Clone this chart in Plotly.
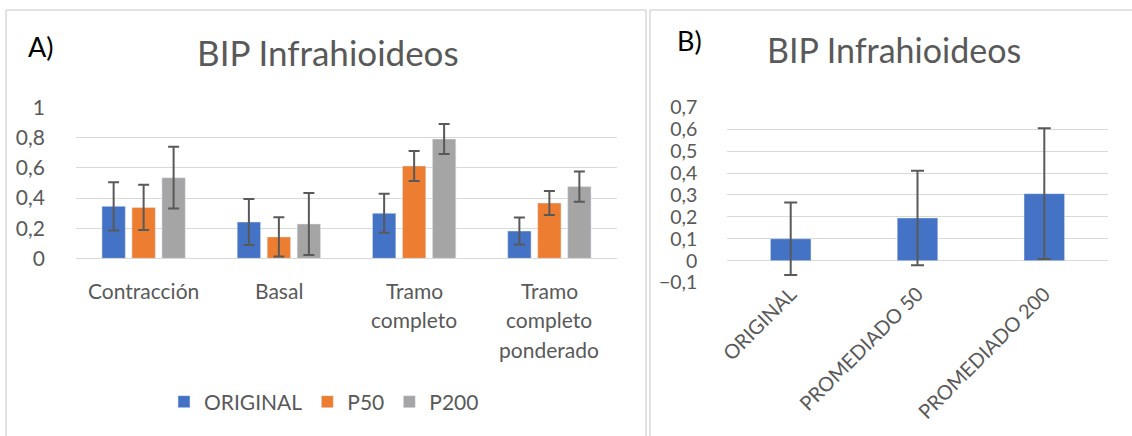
import plotly.graph_objects as go

W, H = 1132, 436

# Panel A: BIP per condition and processing
categories = ["Contracción", "Basal", "Tramo completo", "Tramo completo ponderado"]
original = [0.345, 0.241, 0.299, 0.181]
original_err = [0.16, 0.153, 0.13, 0.09]
p50 = [0.338, 0.142, 0.613, 0.367]
p50_err = [0.15, 0.13, 0.10, 0.08]
p200 = [0.535, 0.228, 0.792, 0.476]
p200_err = [0.205, 0.206, 0.10, 0.10]

# Panel B: mean BIP per processing method
methods = ["ORIGINAL", "PROMEDIADO 50", "PROMEDIADO 200"]
method_mean = [0.10, 0.195, 0.306]
method_err = [0.165, 0.216, 0.298]

BLUE, ORANGE, GRAY = "#4472C4", "#ED7D31", "#A5A5A5"
TXT = "#595959"
GRID = "#D9D9D9"
FONT = "Lato"
FS = 21


def px_x(p):
    return p / W


def px_y(p):
    return 1 - p / H


def err(arr, w):
    return dict(type="data", array=arr, color=TXT, thickness=2, width=w)


fig = go.Figure()
for name, vals, errs, col in [
    ("ORIGINAL", original, original_err, BLUE),
    ("P50", p50, p50_err, ORANGE),
    ("P200", p200, p200_err, GRAY),
]:
    fig.add_trace(go.Bar(x=categories, y=vals, name=name, marker_color=col,
                         error_y=err(errs, 5.5), xaxis="x", yaxis="y"))

fig.add_trace(go.Bar(x=methods, y=method_mean, marker_color=BLUE, width=0.32,
                     error_y=err(method_err, 6.5), showlegend=False,
                     xaxis="x2", yaxis="y2"))

axis_common = dict(showline=False, ticks="", gridcolor=GRID, gridwidth=1.3,
                   zeroline=True, zerolinecolor=GRID, zerolinewidth=1.3,
                   automargin=False)

fig.update_layout(
    width=W, height=H, margin=dict(l=0, r=0, t=0, b=0),
    paper_bgcolor="white", plot_bgcolor="white",
    separators=",.",
    barmode="group", bargap=0.335, bargroupgap=0.22,
    xaxis=dict(domain=[px_x(76), px_x(617)], anchor="y", showticklabels=False,
               showgrid=False, showline=False, ticks="", automargin=False),
    yaxis=dict(domain=[px_y(258.3), px_y(107.7)], anchor="x", range=[0, 1],
               dtick=0.2, ticklabelstandoff=30,
               tickfont=dict(family=FONT, size=FS, color=TXT), **axis_common),
    xaxis2=dict(domain=[px_x(727.3), px_x(1107.7)], anchor="y2", showgrid=False,
                showline=False, ticks="", tickangle=-45, automargin=False,
                ticklabelstandoff=-5,
                tickfont=dict(family=FONT, size=20, color=TXT)),
    yaxis2=dict(domain=[px_y(282.6), px_y(107.3)], anchor="x2", range=[-0.1, 0.7],
                dtick=0.1, tick0=0, ticklabelstandoff=29,
                tickfont=dict(family=FONT, size=19.5, color=TXT), **axis_common),
    legend=dict(orientation="h", x=px_x(324), xanchor="center", y=px_y(402),
                yanchor="middle", font=dict(family=FONT, size=FS, color=TXT)),
    font=dict(family=FONT, color=TXT),
)

annotations = []
# Category labels, wrapped one word per line
for cat in categories:
    for j, word in enumerate(cat.split(" ")):
        annotations.append(dict(x=cat, xref="x", y=px_y(290 + 29.5 * j), yref="paper",
                                text=word, showarrow=False, yanchor="middle",
                                font=dict(family=FONT, size=FS, color=TXT)))

# Titles and panel letters
annotations += [
    dict(x=px_x(328), y=px_y(52), text="BIP Infrahioideos", xref="paper", yref="paper",
         xanchor="center", showarrow=False, yanchor="middle",
         font=dict(family=FONT, size=35, color=TXT)),
    dict(x=px_x(894), y=px_y(49), text="BIP Infrahioideos", xref="paper", yref="paper",
         xanchor="center", showarrow=False, yanchor="middle",
         font=dict(family=FONT, size=34, color=TXT)),
    dict(x=px_x(26), y=px_y(47), text="A)", xref="paper", yref="paper", xanchor="left",
         showarrow=False, yanchor="middle", font=dict(family=FONT, size=27, color="black")),
    dict(x=px_x(675), y=px_y(40), text="B)", xref="paper", yref="paper", xanchor="left",
         showarrow=False, yanchor="middle", font=dict(family=FONT, size=27, color="black")),
]
fig.update_layout(annotations=annotations)

# Chart-area frames of the two panels
frame = dict(color=GRID, width=1.5)
shapes = [
    dict(type="line", xref="paper", yref="paper", x0=px_x(6), x1=px_x(6), y0=px_y(10), y1=-0.05, line=frame),
    dict(type="line", xref="paper", yref="paper", x0=px_x(646), x1=px_x(646), y0=px_y(10), y1=-0.05, line=frame),
    dict(type="line", xref="paper", yref="paper", x0=px_x(6), x1=px_x(646), y0=px_y(10), y1=px_y(10), line=frame),
    dict(type="line", xref="paper", yref="paper", x0=px_x(650), x1=px_x(650), y0=px_y(10), y1=-0.05, line=frame),
    dict(type="line", xref="paper", yref="paper", x0=px_x(650), x1=1.05, y0=px_y(10), y1=px_y(10), line=frame),
]
fig.update_layout(shapes=shapes)

fig.write_html("out.html")
